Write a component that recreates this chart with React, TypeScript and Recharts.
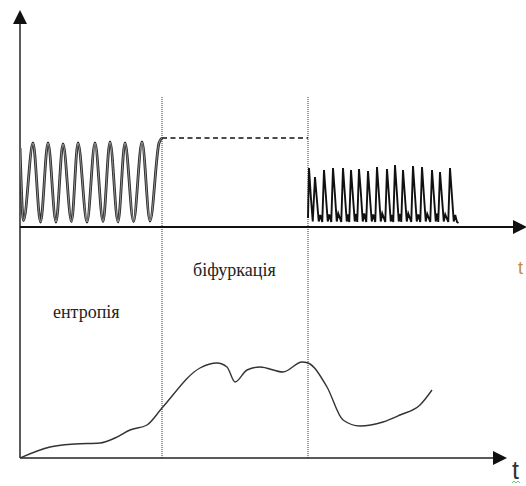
import { LineChart, Line, XAxis, YAxis, ReferenceLine, ReferenceDot } from "recharts";

// time t (x) and amplitude v (y)
// top panel: regular oscillations before the bifurcation
const regularT = [0, 0.7, 2.6, 4.1, 5.6, 7.2, 8.6, 10.3, 11.6, 13.4, 15, 16.6, 18, 19.6, 21, 22.7, 24.4, 26, 27.8, 28.4];
const regularV = [62, 47.5, 63, 47.2, 63, 47.2, 62.8, 47.3, 63, 47.2, 63, 47.3, 63.2, 47.2, 63, 47.3, 63.2, 47.4, 63, 64];

// the held level during the bifurcation
const levelT = [28.4, 57.6];
const levelV = [64, 64];

// top panel: dense spikes after the bifurcation
const spikyT = [
    57.6, 57.8, 58.15, 58.55,
    59.0, 59.35, 59.75, 60.05,
    60.45, 60.8, 61.15, 61.55, 61.85,
    62.25, 62.6, 62.95, 63.35, 63.65,
    64.25, 64.6, 64.95, 65.35, 65.65,
    65.85, 66.2, 66.55, 66.95, 67.25,
    67.45, 67.8, 68.15, 68.55, 68.85,
    69.25, 69.6, 69.95, 70.35, 70.65,
    71.05, 71.4, 71.75, 72.15, 72.45,
    73.05, 73.4, 73.75, 74.15, 74.45,
    74.65, 75.0, 75.35, 75.75, 76.05,
    76.25, 76.6, 76.95, 77.35, 77.65,
    78.25, 78.6, 78.95, 79.35, 79.65,
    80.05, 80.4, 80.75, 81.15, 81.45,
    82.05, 82.4, 82.75, 83.15, 83.45,
    83.65, 84.0, 84.35, 84.75, 85.05,
    85.65, 86.0, 86.35, 86.75, 87.05, 87.4, 87.7,
];
const spikyV = [
    48, 58, 52.5, 47.3,
    56.2, 52, 47.3, 48.6,
    47.2, 57.6, 52.8, 47.3, 48.7,
    47.2, 58, 53.2, 47.3, 48.9,
    47.2, 58, 53, 47.3, 48.7,
    47.2, 57.6, 52.8, 47.3, 48.8,
    47.2, 57.8, 53.4, 47.3, 48.9,
    47.2, 57.4, 52.6, 47.3, 48.7,
    47.2, 58.2, 53.2, 47.3, 48.9,
    47.2, 57.8, 53, 47.3, 48.6,
    47.2, 58.6, 53.4, 47.3, 48.8,
    47.2, 57.6, 52.8, 47.3, 48.9,
    47.2, 58.4, 53.2, 47.3, 48.7,
    47.2, 58.2, 53, 47.3, 48.8,
    47.2, 57.6, 52.8, 47.3, 48.9,
    47.2, 57.2, 52.6, 47.3, 48.7,
    47.2, 58, 53, 47.3, 48.6, 47.2, 47,
];

// bottom panel: entropy
const entropyT = [0, 6, 11, 16, 19, 22, 25.4, 28.4, 36, 39.4, 41.4, 43, 45.4, 48, 52.6, 56.4, 57.6, 61.4, 64.6, 68, 72.6, 76, 80, 82.4];
const entropyV = [0, 2.2, 2.8, 3, 4, 5.6, 6.6, 10, 18, 19, 18.2, 15.2, 17.6, 18.2, 17.2, 19.2, 19, 14.2, 7.6, 6.4, 7.2, 8.6, 10.6, 13.6];

// phase boundaries and axes
const boundaries = [28.4, 57.6];
const boundaryTop = 72.2;
const topAxisLevel = 46.2;

const zip = (ts: number[], vs: number[]) => ts.map((t, i) => ({ t, v: vs[i] }));

const regular = zip(regularT, regularV);
const level = zip(levelT, levelV);
const spiky = zip(spikyT, spikyV);
const entropy = zip(entropyT, entropyV);

const upArrow = (p: any) => (
    <polygon points={`${p.cx},${p.cy} ${p.cx - 7},${p.cy + 14} ${p.cx + 7},${p.cy + 14}`} fill="#111" />
);
const rightArrow = (p: any) => (
    <polygon points={`${p.cx},${p.cy} ${p.cx - 14},${p.cy - 7} ${p.cx - 14},${p.cy + 7}`} fill="#111" />
);

const serif = "'Liberation Serif', 'Times New Roman', 'DejaVu Serif', serif";

export default function App() {
    return (
        <div style={{ position: "absolute", left: 0, top: 0, width: 526, height: 486, background: "#fff" }}>
            <LineChart width={526} height={486} margin={{ top: 10, right: 0, left: 20, bottom: 28 }}>
                <XAxis dataKey="t" type="number" domain={[0, 101.2]} hide allowDataOverflow />
                <YAxis type="number" domain={[0, 89.6]} hide allowDataOverflow />

                {boundaries.map((b) => (
                    <ReferenceLine
                        key={b}
                        segment={[{ x: b, y: 0 }, { x: b, y: boundaryTop }]}
                        stroke="#555"
                        strokeDasharray="1 1"
                        strokeWidth={1.2}
                        ifOverflow="visible"
                    />
                ))}

                {/* axes */}
                <ReferenceLine segment={[{ x: 0, y: 0 }, { x: 0, y: 87.5 }]} stroke="#333" strokeWidth={1.6} ifOverflow="visible" />
                <ReferenceLine segment={[{ x: 0, y: 0 }, { x: 95.5, y: 0 }]} stroke="#222" strokeWidth={1.6} ifOverflow="visible" />
                <ReferenceLine segment={[{ x: 0, y: topAxisLevel }, { x: 99, y: topAxisLevel }]} stroke="#111" strokeWidth={1.8} ifOverflow="visible" />
                <ReferenceDot x={0} y={89.6} shape={upArrow} ifOverflow="visible" />
                <ReferenceDot x={97.4} y={0} shape={rightArrow} ifOverflow="visible" />
                <ReferenceDot x={101.4} y={topAxisLevel} shape={rightArrow} ifOverflow="visible" />

                <Line data={regular} dataKey="v" type="monotone" dot={false} stroke="#2a2a2a" strokeWidth={2.8} isAnimationActive={false} />
                <Line data={regular} dataKey="v" type="monotone" dot={false} stroke="#aaa" strokeWidth={0.8} isAnimationActive={false} />
                <Line data={level} dataKey="v" type="linear" dot={false} stroke="#111" strokeWidth={1.6} strokeDasharray="5 3.5" isAnimationActive={false} />
                <Line data={spiky} dataKey="v" type="linear" dot={false} stroke="#111" strokeWidth={1.9} isAnimationActive={false} />
                <Line data={entropy} dataKey="v" type="monotone" dot={false} stroke="#333" strokeWidth={1.4} isAnimationActive={false} />
            </LineChart>

            <svg width={526} height={486} style={{ position: "absolute", left: 0, top: 0, pointerEvents: "none" }}>
                <text x={193} y={276} style={{ fontFamily: serif, fontSize: 18 }} fill="#222">біфуркація</text>
                <text x={53} y={318} style={{ fontFamily: serif, fontSize: 18 }} fill="#222">ентропія</text>
                <text x={512} y={479} style={{ fontFamily: "'Liberation Sans', Arial, sans-serif", fontSize: 25 }} fill="#333">t</text>
                <text x={518} y={274} style={{ fontFamily: "'Liberation Sans', Arial, sans-serif", fontSize: 18 }} fill="#c8883a">t</text>
                <path d="M512,483 l2,-2 l2,2 l2,-2 l2,2" stroke="#6c6" strokeWidth={1} fill="none" />
            </svg>
        </div>
    );
}
